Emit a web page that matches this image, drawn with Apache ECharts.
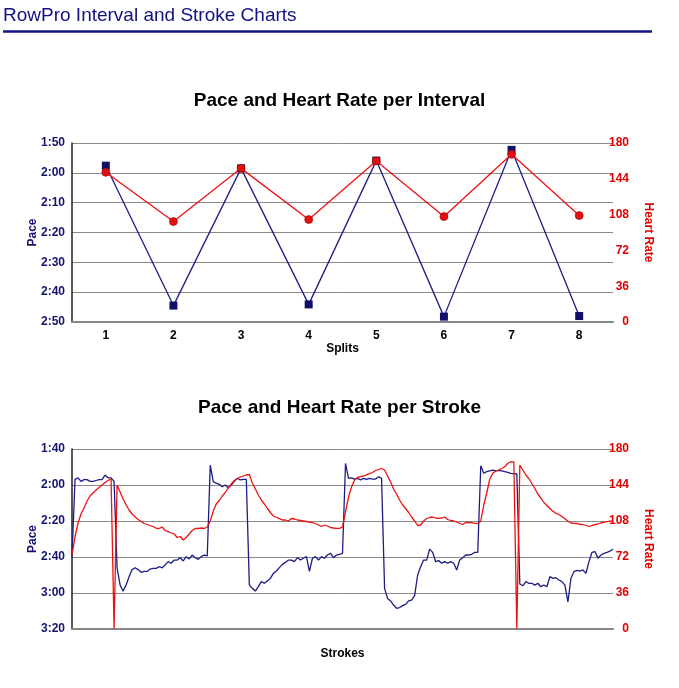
<!DOCTYPE html>
<html>
<head>
<meta charset="utf-8">
<script src="https://cdn.jsdelivr.net/npm/echarts@6/dist/echarts.min.js"></script>
<style>
html,body{margin:0;padding:0;background:#fff;}
#chart{width:679px;height:688px;}
</style>
</head>
<body>
<div id="chart"></div>
<script>
// ---- Data ----
var splits = ['1','2','3','4','5','6','7','8'];
var splitPace = [117.6, 164.5, 118.5, 164.1, 115.9, 168.2, 112.3, 168.0];   // seconds per 500m
var splitHR = [150.5, 101, 154.5, 103, 162, 106, 168.6, 107];

var strokePace = [
160,117,116,118,117,117,118,118,117.5,117,117,114.5,116,116,118,
166,175.5,179,175.5,171,167,166,167,168.5,168,168,166.7,166.3,166.3,165.4,
166,164.4,162.6,163.5,161.7,161.7,160.4,162.2,159.8,161.1,158.9,160.4,161.3,159.8,158.9,
159.4,109,118.1,119,119.6,121,120,121.5,120,118,116.3,117.2,116.9,116.9,
175.5,177.4,178.9,176.5,173.7,174.6,173.3,171.9,169.1,167.8,165.9,164.1,163,161.7,
161.7,162.6,160.4,161.7,160.7,159.8,168,160.7,159.8,161.7,159.8,160.7,158.9,158,
160.4,158.9,158.5,158,108,116.3,116,116.7,116.3,117.2,116.3,116.9,116.3,116.7,
116.7,115.4,116.3,177.4,183,184.4,186.7,188.5,188.1,187,186.3,184.4,183.9,181.5,
170,165.4,161.7,161.7,155.6,157.4,162.6,162,163.5,162.6,163.5,162.6,163.5,167.2,
161.7,160.4,158.9,158.9,158.5,157.4,157.4,109.3,113.5,112.6,112.2,111.7,112.2,111.9,
112.2,112.6,113,113.5,113.7,113.9,175,176,173.7,174.6,174.6,175.6,174.6,176.5,
175.6,176.5,170.9,171.9,171.5,172.8,173.7,175.6,185,171.9,168.1,167.4,167.8,167.2,
169.1,162.6,157.4,157,160.7,158.9,158,157.4,156.7,155.7
];
var strokeHR = [
74,92,106,115,121,128,133,136,139,141.5,144,146.5,148.5,150,0,
144,137,130,124,119,115,112,109.5,107.5,105.5,104.5,103.5,102.5,100.7,100.5,
102,98.5,97.3,96,95,91.5,92.5,89,91.5,95,98.5,100.5,100.5,101,100.5,
102,108,118,125,128.5,133,136.5,141,145,148.5,150.5,152,153,154,
154.5,146,140,134,129,125,120.5,116.5,113,111.5,110.3,109,109,108,
110.5,110,109,108.5,108,107.5,106.8,106.5,105.5,104,102.5,104,103,101.5,
101,100.7,100.7,102,117,132,142,149,151.5,152.3,153,154.2,155.3,156.5,
158.5,159.5,160.5,159,153,147,140,135,129,124,120.5,116.5,112,108,
103.5,104,108,110.5,111.5,112,111,110.7,111,112,109.5,108.5,108,107,
105.5,104.5,106.5,106.5,106.3,105.7,105.3,108,124,136,150,155.7,158,159,
160.5,162.3,165.7,167.3,167,0,164,159,154,150.5,145.5,140.5,135,131,
126.5,123.5,120.5,117.8,115.7,114.5,112.5,110.3,108,106,105.7,105.5,104.7,104.5,
103.5,102.5,103.5,104.3,105,106,106.8,107.3,107.8,108
];
var strokes = strokePace.map(function(_, i){ return String(i + 1); });

var paceTicksTop = {min:110, max:170, interval:10};
var paceTicksBottom = {min:100, max:200, interval:20};
var hrTicks = {min:0, max:180, interval:36};

// ---- Styles ----
var NAVY = '#1c1c85';
var NAVY_TXT = '#14146e';
var RED = '#ee1111';
var RED_TXT = '#e00000';
var FONT = '"Liberation Sans", Arial, Helvetica, sans-serif';

function fmtPace(v){
  var m = Math.floor(v/60), s = Math.round(v - m*60);
  return m + ':' + (s < 10 ? '0' + s : s);
}

function paceAxis(gridIndex, ticks){
  return {
    type:'value', gridIndex:gridIndex, inverse:true,
    min:ticks.min, max:ticks.max, interval:ticks.interval,
    name:'Pace', nameLocation:'middle', nameGap:33, nameRotate:90, nameMoveOverlap:false,
    nameTextStyle:{color:NAVY_TXT, fontWeight:'bold', fontSize:12, fontFamily:FONT},
    axisLine:{show:true, lineStyle:{color:'#222', width:1.5}},
    axisTick:{show:false},
    axisLabel:{formatter:fmtPace, color:NAVY_TXT, fontWeight:'bold', fontSize:12, fontFamily:FONT, margin:7},
    splitLine:{show:true, lineStyle:{color:'#8a8a8a', width:1}}
  };
}
function hrAxis(gridIndex){
  return {
    type:'value', gridIndex:gridIndex, position:'right',
    min:hrTicks.min, max:hrTicks.max, interval:hrTicks.interval,
    name:'Heart Rate', nameLocation:'middle', nameGap:29, nameRotate:-90, nameMoveOverlap:false,
    nameTextStyle:{color:RED_TXT, fontWeight:'bold', fontSize:12, fontFamily:FONT},
    axisLine:{show:false}, axisTick:{show:false},
    axisLabel:{color:RED_TXT, fontWeight:'bold', fontSize:12, fontFamily:FONT, align:'right', margin:16},
    splitLine:{show:false}
  };
}

var chart = echarts.init(document.getElementById('chart'), null, {renderer:'canvas'});
chart.setOption({
  animation:false,
  backgroundColor:'#ffffff',
  title:[
    {text:'RowPro Interval and Stroke Charts', left:3, top:6, padding:0,
     textStyle:{fontSize:19, fontWeight:'normal', color:'#121280', fontFamily:FONT}},
    {text:'Pace and Heart Rate per Interval', left:'center', top:86,
     textStyle:{fontSize:19, fontWeight:'bold', color:'#000', fontFamily:FONT}},
    {text:'Pace and Heart Rate per Stroke', left:'center', top:393,
     textStyle:{fontSize:19, fontWeight:'bold', color:'#000', fontFamily:FONT}}
  ],
  graphic:[
    {type:'line', shape:{x1:3, y1:31.5, x2:652, y2:31.5}, style:{stroke:'#121280', lineWidth:2.5}}
  ],
  grid:[
    {left:72, right:66, top:143, height:179},
    {left:72, right:66, top:449, height:180}
  ],
  xAxis:[
    {type:'category', gridIndex:0, data:splits, boundaryGap:true,
     name:'Splits', nameLocation:'middle', nameGap:21, nameMoveOverlap:false,
     nameTextStyle:{color:'#000', fontWeight:'bold', fontSize:12, fontFamily:FONT},
     axisLine:{lineStyle:{color:'#888', width:2}}, axisTick:{show:false},
     axisLabel:{color:'#000', fontWeight:'bold', fontSize:12, fontFamily:FONT, margin:8}},
    {type:'category', gridIndex:1, data:strokes, boundaryGap:false,
     name:'Strokes', nameLocation:'middle', nameGap:19, nameMoveOverlap:false,
     nameTextStyle:{color:'#000', fontWeight:'bold', fontSize:12, fontFamily:FONT},
     axisLine:{lineStyle:{color:'#888', width:2}}, axisTick:{show:false},
     axisLabel:{show:false}}
  ],
  yAxis:[
    paceAxis(0, paceTicksTop), hrAxis(0),
    paceAxis(1, paceTicksBottom), hrAxis(1)
  ],
  series:[
    {type:'line', name:'Pace', xAxisIndex:0, yAxisIndex:0, data:splitPace,
     symbol:'rect', symbolSize:8, z:2,
     lineStyle:{color:NAVY, width:1.3}, itemStyle:{color:'#10106a'}},
    {type:'line', name:'Heart Rate', xAxisIndex:0, yAxisIndex:1, data:splitHR,
     symbol:'circle', symbolSize:8, z:3,
     lineStyle:{color:RED, width:1.3}, itemStyle:{color:'#e01010', borderColor:'#a00000', borderWidth:0.6}},
    {type:'line', name:'Pace', xAxisIndex:1, yAxisIndex:2, data:strokePace,
     showSymbol:false, z:2, lineStyle:{color:NAVY, width:1.3}},
    {type:'line', name:'Heart Rate', xAxisIndex:1, yAxisIndex:3, data:strokeHR,
     showSymbol:false, z:3, lineStyle:{color:RED, width:1.3}}
  ]
});
</script>
</body>
</html>
